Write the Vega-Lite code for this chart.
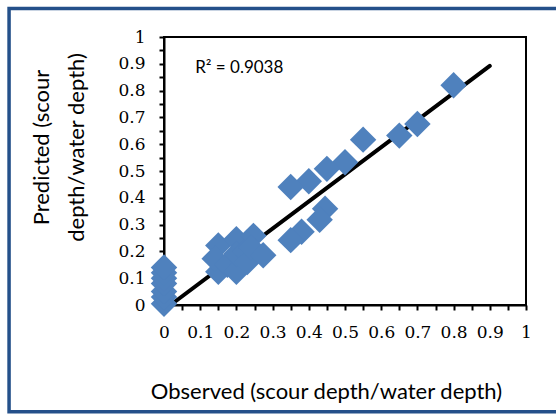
{
  "$schema": "https://vega.github.io/schema/vega-lite/v6.json",
  "width": 362,
  "height": 268,
  "autosize": "none",
  "padding": {"left": 164, "top": 37, "right": 30, "bottom": 111},
  "background": "white",
  "config": {
    "view": {"stroke": "#000000", "strokeWidth": 2},
    "axis": {
      "grid": false,
      "domainColor": "#000000",
      "domainWidth": 2,
      "tickColor": "#000000",
      "tickWidth": 2,
      "tickSize": 5,
      "labelFont": "DejaVu Serif",
      "labelFontSize": 17,
      "labelColor": "#000000",
      "labelPadding": 14,
      "labelOverlap": false,
      "labelFlush": false,
      "labelBound": false,
      "titleFont": "Lato",
      "titleFontSize": 22,
      "titleFontWeight": "normal",
      "titleColor": "#000000"
    }
  },
  "datasets": {
    "points": [
      {"obs": 0.8, "pred": 0.82},
      {"obs": 0.7, "pred": 0.675},
      {"obs": 0.65, "pred": 0.632},
      {"obs": 0.55, "pred": 0.617},
      {"obs": 0.5, "pred": 0.533},
      {"obs": 0.45, "pred": 0.508},
      {"obs": 0.4, "pred": 0.462},
      {"obs": 0.35, "pred": 0.44},
      {"obs": 0.445, "pred": 0.359},
      {"obs": 0.43, "pred": 0.318},
      {"obs": 0.38, "pred": 0.273},
      {"obs": 0.35, "pred": 0.242},
      {"obs": 0.15, "pred": 0.222},
      {"obs": 0.15, "pred": 0.124},
      {"obs": 0.14, "pred": 0.173},
      {"obs": 0.175, "pred": 0.15},
      {"obs": 0.2, "pred": 0.245},
      {"obs": 0.2, "pred": 0.124},
      {"obs": 0.2, "pred": 0.19},
      {"obs": 0.224, "pred": 0.2},
      {"obs": 0.23, "pred": 0.16},
      {"obs": 0.247, "pred": 0.258},
      {"obs": 0.24, "pred": 0.215},
      {"obs": 0.274, "pred": 0.186},
      {"obs": 0, "pred": 0.005},
      {"obs": 0, "pred": 0.03},
      {"obs": 0, "pred": 0.05},
      {"obs": 0, "pred": 0.08},
      {"obs": 0, "pred": 0.1},
      {"obs": 0, "pred": 0.12},
      {"obs": 0, "pred": 0.14}
    ],
    "trend": [
      {"obs": 0.018, "pred": 0.0},
      {"obs": 0.9, "pred": 0.892}
    ],
    "note": [
      {"label": "R² = 0.9038"}
    ]
  },
  "encoding": {
    "x": {
      "type": "quantitative",
      "scale": {"domain": [0, 1], "nice": false, "zero": false},
      "title": "Observed (scour depth/water depth)",
      "axis": {
        "values": [0, 0.05, 0.1, 0.15, 0.2, 0.25, 0.3, 0.35, 0.4, 0.45, 0.5, 0.55, 0.6, 0.65, 0.7, 0.75, 0.8, 0.85, 0.9, 0.95, 1],
        "labelExpr": "round(datum.value * 20) % 2 == 0 ? format(datum.value, '.1~f') : ''",
        "labelOverlap": false,
        "labelFlush": false,
        "titleX": 162,
        "titleY": 93,
        "titleBaseline": "alphabetic"
      }
    },
    "y": {
      "type": "quantitative",
      "scale": {"domain": [0, 1], "nice": false, "zero": false},
      "title": ["Predicted (scour", "depth/water depth)"],
      "axis": {
        "values": [0, 0.05, 0.1, 0.15, 0.2, 0.25, 0.3, 0.35, 0.4, 0.45, 0.5, 0.55, 0.6, 0.65, 0.7, 0.75, 0.8, 0.85, 0.9, 0.95, 1],
        "labelExpr": "round(datum.value * 20) % 2 == 0 ? format(datum.value, '.1~f') : ''",
        "labelOverlap": false,
        "titleX": -116,
        "titleY": 110,
        "titleAngle": -90,
        "titleAlign": "center",
        "titleBaseline": "alphabetic",
        "titleLineHeight": 35
      }
    }
  },
  "layer": [
    {
      "data": {"values": [{}]},
      "mark": {"type": "rect", "fill": null, "stroke": "#24508A", "strokeWidth": 3.5, "clip": false},
      "encoding": {
        "x": {"datum": -0.428, "type": "quantitative"},
        "x2": {"datum": 1.3},
        "y": {"datum": 1.106, "type": "quantitative"},
        "y2": {"datum": -0.398}
      }
    },
    {
      "data": {"name": "trend"},
      "mark": {"type": "line", "color": "#000000", "strokeWidth": 4, "strokeCap": "round"},
      "encoding": {
        "x": {"field": "obs", "type": "quantitative"},
        "y": {"field": "pred", "type": "quantitative"}
      }
    },
    {
      "data": {"name": "points"},
      "mark": {"type": "point", "shape": "diamond", "filled": true, "size": 700, "color": "#4F81BD", "opacity": 1, "strokeWidth": 0},
      "encoding": {
        "x": {"field": "obs", "type": "quantitative"},
        "y": {"field": "pred", "type": "quantitative"}
      }
    },
    {
      "data": {"name": "note"},
      "mark": {"type": "text", "align": "left", "baseline": "middle", "font": "Lato", "fontSize": 17, "color": "#000000"},
      "encoding": {
        "x": {"datum": 0.086, "type": "quantitative"},
        "y": {"datum": 0.886, "type": "quantitative"},
        "text": {"field": "label"}
      }
    }
  ]
}
